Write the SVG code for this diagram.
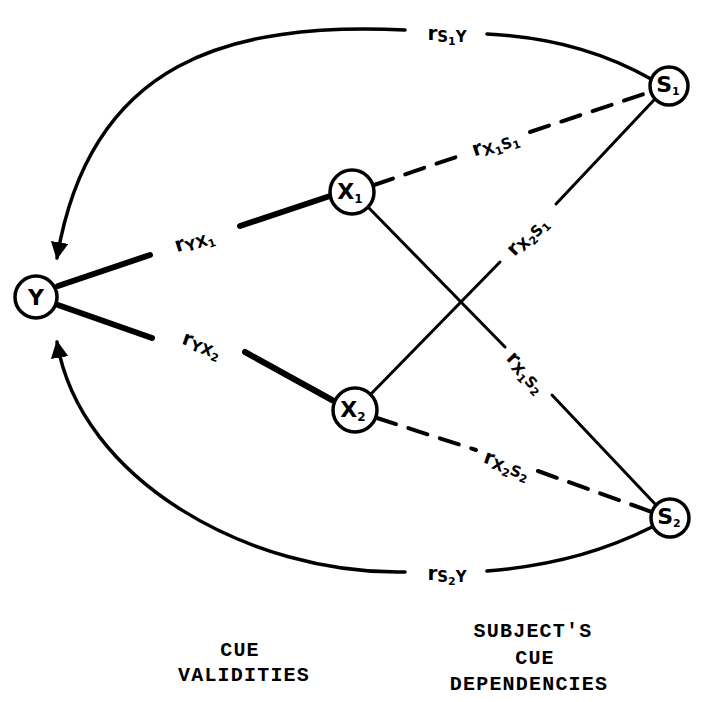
<svg xmlns="http://www.w3.org/2000/svg" width="701" height="702" viewBox="0 0 701 702">
<style>
.node{fill:#fff;stroke:#000;stroke-width:3.5}
.nt{font-family:"DejaVu Sans",sans-serif;font-weight:bold;font-size:22px;fill:#000}
.ln{stroke:#000;fill:none;stroke-linecap:round}
.thick{stroke-width:6}
.solid{stroke-width:3}
.dash{stroke-width:4;stroke-dasharray:20 13}
.arc{stroke-width:3.5}
.lbl{font-family:"DejaVu Sans",sans-serif;font-weight:bold;font-size:20px;fill:#000}
.s{font-size:15px}
.ss{font-size:11px}
.cap{font-family:"Liberation Mono",monospace;font-weight:bold;font-size:20px;letter-spacing:1.2px;fill:#000;text-anchor:middle}
</style>
<defs>
<marker id="ah" viewBox="0 0 10 10" refX="9" refY="5" markerWidth="5" markerHeight="5" orient="auto" markerUnits="strokeWidth">
<path d="M0,0 L10,5 L0,10 z" fill="#000"/>
</marker>
</defs>
<rect width="701" height="702" fill="#fff"/>
<g id="connectors">
<path class="ln thick" d="M58,286 L150,255"/>
<path class="ln thick" d="M240,226 L330,196"/>
<path class="ln thick" d="M58,305 L152,338"/>
<path class="ln thick" d="M245,352 L332,400"/>
<path class="ln dash" d="M374,185 L465,154"/>
<path class="ln dash" d="M530,132 L650,92"/>
<path class="ln dash" d="M377,418 L476,450"/>
<path class="ln dash" d="M538,471 L652,512"/>
<path class="ln solid" d="M368,207 L505,347"/>
<path class="ln solid" d="M552,395 L656,505"/>
<path class="ln solid" d="M370,395 L500,262"/>
<path class="ln solid" d="M556,204 L654,100"/>
<path class="ln arc" d="M651,79 C610,56 560,38 487,34"/>
<path class="ln arc" d="M405,30 C230,22 90,60 57,258" marker-end="url(#ah)"/>
<path class="ln arc" d="M652,527 C610,548 560,565 487,571"/>
<path class="ln arc" d="M405,572 C250,575 80,480 57,342" marker-end="url(#ah)"/>
<text class="lbl" text-anchor="middle" transform="translate(447,40)">r<tspan class="s" dy="2">S</tspan><tspan class="ss" dy="3">1</tspan><tspan class="s" dy="-3">Y</tspan></text>
<text class="lbl" text-anchor="middle" transform="translate(447,580)">r<tspan class="s" dy="2">S</tspan><tspan class="ss" dy="3">2</tspan><tspan class="s" dy="-3">Y</tspan></text>
<text class="lbl" text-anchor="middle" transform="translate(196,246) rotate(-18)">r<tspan class="s" dy="3">YX</tspan><tspan class="ss" dy="3">1</tspan></text>
<text class="lbl" text-anchor="middle" transform="translate(200,350) rotate(19)">r<tspan class="s" dy="3">YX</tspan><tspan class="ss" dy="3">2</tspan></text>
<text class="lbl" text-anchor="middle" transform="translate(497,149) rotate(-18.7)">r<tspan class="s" dy="3">X</tspan><tspan class="ss" dy="3">1</tspan><tspan class="s" dy="-3">S</tspan><tspan class="ss" dy="3">1</tspan></text>
<text class="lbl" text-anchor="middle" transform="translate(531,240) rotate(-46)">r<tspan class="s" dy="3">X</tspan><tspan class="ss" dy="3">2</tspan><tspan class="s" dy="-3">S</tspan><tspan class="ss" dy="3">1</tspan></text>
<text class="lbl" text-anchor="middle" transform="translate(522,376) rotate(45.7)">r<tspan class="s" dy="3">X</tspan><tspan class="ss" dy="3">1</tspan><tspan class="s" dy="-3">S</tspan><tspan class="ss" dy="3">2</tspan></text>
<text class="lbl" text-anchor="middle" transform="translate(505,470) rotate(18.9)">r<tspan class="s" dy="3">X</tspan><tspan class="ss" dy="3">2</tspan><tspan class="s" dy="-3">S</tspan><tspan class="ss" dy="3">2</tspan></text>
</g>
<g id="node-Y">
<circle class="node" cx="36" cy="297" r="21"/>
<text class="nt" x="36" y="305" text-anchor="middle">Y</text>
</g>
<g id="node-X1">
<circle class="node" cx="352" cy="192" r="22"/>
<text class="nt" x="350" y="199" text-anchor="middle" font-size="18">X<tspan font-size="12" dy="4">1</tspan></text>
</g>
<g id="node-X2">
<circle class="node" cx="355" cy="410" r="22"/>
<text class="nt" x="353" y="417" text-anchor="middle" font-size="18">X<tspan font-size="12" dy="4">2</tspan></text>
</g>
<g id="node-S1">
<circle class="node" cx="669" cy="86" r="19"/>
<text class="nt" x="668" y="92" text-anchor="middle" font-size="17">S<tspan font-size="11" dy="3">1</tspan></text>
</g>
<g id="node-S2">
<circle class="node" cx="670" cy="518" r="19"/>
<text class="nt" x="669" y="524" text-anchor="middle" font-size="17">S<tspan font-size="11" dy="3">2</tspan></text>
</g>
<g id="captions">
<text class="cap" x="240" y="656">CUE</text>
<text class="cap" x="244" y="681">VALIDITIES</text>
<text class="cap" x="533" y="637">SUBJECT'S</text>
<text class="cap" x="535" y="664">CUE</text>
<text class="cap" x="529" y="690">DEPENDENCIES</text>
</g>
</svg>
